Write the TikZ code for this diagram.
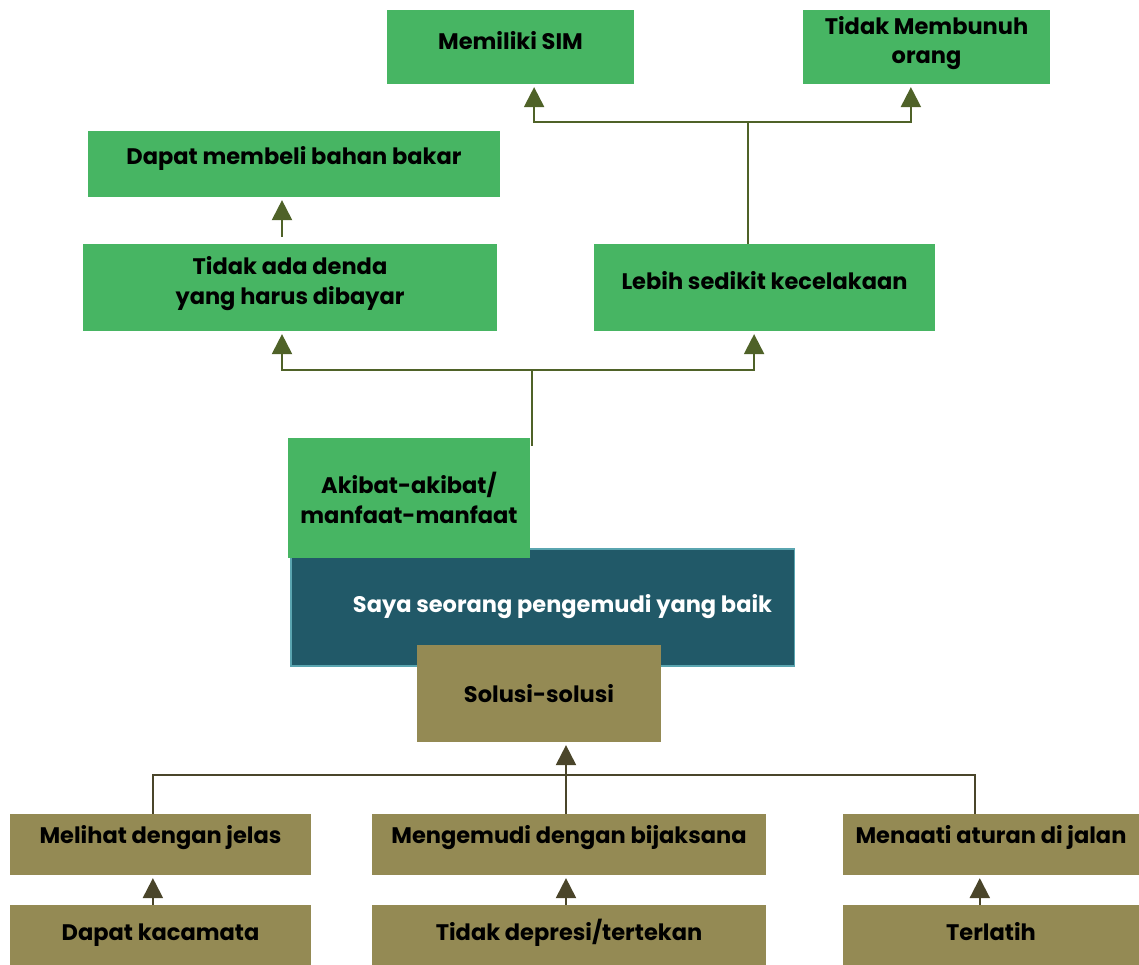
\documentclass[tikz,border=0pt]{standalone}
\usepackage{fontspec}
\setmainfont{Poppins}
\usetikzlibrary{arrows.meta}

\definecolor{hijau}{HTML}{47B563}
\definecolor{hijautua}{HTML}{4F6228}
\definecolor{biru}{HTML}{215968}
\definecolor{birutepi}{HTML}{5AA5B0}
\definecolor{zaitun}{HTML}{948A54}
\definecolor{coklat}{HTML}{4A452A}

\tikzset{
  kotak/.style={inner sep=2pt, align=center,
    font=\fontsize{16}{21}\selectfont\bfseries},
  hbox/.style={kotak, fill=hijau},
  zbox/.style={kotak, fill=zaitun},
  satu/.style={text height=0.45cm, text depth=#1},
  gline/.style={draw=hijautua, line width=1.5pt},
  garr/.style={gline, -{Triangle[width=0.5cm,length=0.5cm]}, shorten >=2pt},
  zline/.style={draw=coklat, line width=1.5pt},
  zarr/.style={zline, -{Triangle[width=0.5cm,length=0.5cm]}, shorten >=2pt}
}

\begin{document}
\begin{tikzpicture}[x=0.025cm, y=-0.025cm]
\useasboundingbox (0,0) rectangle (1139,965);

% akibat / manfaat
\node[hbox, satu=0.3cm, minimum width=6.175cm, minimum height=1.85cm] (sim) at (510.5,47) {Memiliki SIM};
\node[hbox, text depth=0.35cm, minimum width=6.175cm, minimum height=1.85cm] (bunuh) at (926.5,47) {Tidak Membunuh\\orang};
\node[hbox, satu=0.4cm, minimum width=10.3cm, minimum height=1.65cm] (bbm) at (294,164) {Dapat membeli bahan bakar};
\node[hbox, text depth=0.35cm, minimum width=10.35cm, minimum height=2.175cm] (denda) at (290,287.5) {Tidak ada denda\\yang harus dibayar};
\node[hbox, satu=0.37cm, minimum width=8.525cm, minimum height=2.175cm] (celaka) at (764.5,287.5) {Lebih sedikit kecelakaan};

% pusat
\node[kotak, satu=0.22cm, fill=biru, draw=birutepi, line width=0.8pt, text=white,
  minimum width=12.575cm, minimum height=2.925cm] (saya) at (542.5,607.5)
  {\hspace*{1cm}Saya seorang pengemudi yang baik};
\node[hbox, minimum width=6.05cm, minimum height=3cm] (akibat) at (409,498) {Akibat-akibat/\\manfaat-manfaat};
\node[zbox, text height=0.62cm, text depth=0.15cm, minimum width=6.1cm, minimum height=2.425cm] (solusi) at (539,693.5) {Solusi-solusi};

% solusi
\node[zbox, satu=0.52cm, minimum width=7.525cm, minimum height=1.525cm] (lihat) at (160.5,844.5) {Melihat dengan jelas};
\node[zbox, satu=0.52cm, minimum width=9.85cm, minimum height=1.525cm] (bijak) at (569,844.5) {Mengemudi dengan bijaksana};
\node[zbox, satu=0.52cm, minimum width=7.4cm, minimum height=1.525cm] (taat) at (991,844.5) {Menaati aturan di jalan};
\node[zbox, satu=0.2cm, minimum width=7.525cm, minimum height=1.5cm] (kaca) at (160.5,935) {Dapat kacamata};
\node[zbox, satu=0.2cm, minimum width=9.85cm, minimum height=1.5cm] (depresi) at (569,935) {Tidak depresi/tertekan};
\node[zbox, satu=0.2cm, minimum width=7.4cm, minimum height=1.5cm] (latih) at (991,935) {Terlatih};

% panah atas
\coordinate (j1) at (748,122);
\draw[gline] (celaka.north -| j1) -- (j1);
\draw[garr] (j1) -| ([xshift=0.59cm]sim.south);
\draw[garr] (j1) -| ([xshift=-0.39cm]bunuh.south);
\coordinate (j2) at (532,370);
\draw[gline] ([yshift=-0.2cm]j2 |- akibat.north) -- (j2);
\draw[garr] (j2) -| ([xshift=-0.2cm]denda.south);
\draw[garr] (j2) -| ([xshift=-0.26cm]celaka.south);
\draw[garr] ([xshift=-0.2cm,yshift=0.18cm]denda.north) -- ([xshift=-0.2cm]denda.north |- bbm.south);

% panah bawah
\coordinate (j3) at (566,775);
\draw[zarr] (bijak.north -| j3) -- (solusi.south -| j3);
\draw[zline] ([xshift=-0.19cm]lihat.north) |- (j3) -| ([xshift=-0.4cm]taat.north);
\draw[zarr] ([xshift=-0.19cm]kaca.north) -- ([xshift=-0.19cm]lihat.south);
\draw[zarr] (depresi.north -| j3) -- (bijak.south -| j3);
\draw[zarr] ([xshift=-0.28cm]latih.north) -- ([xshift=-0.28cm]taat.south);

\end{tikzpicture}
\end{document}
